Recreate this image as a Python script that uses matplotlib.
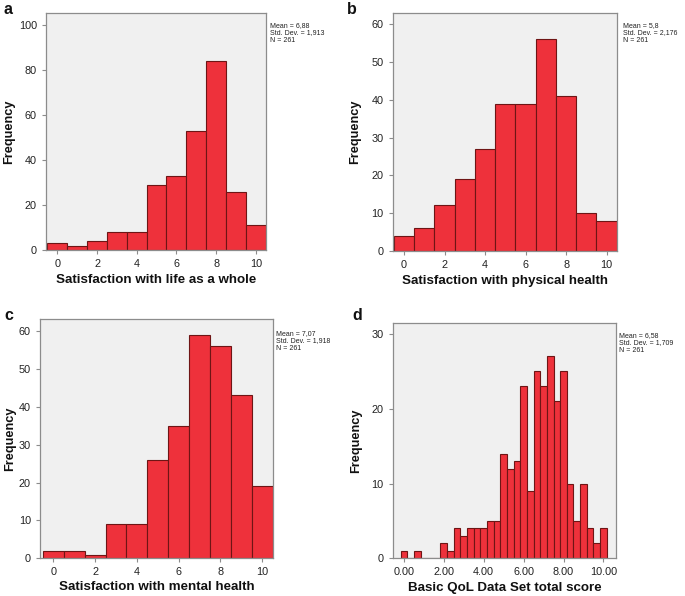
import numpy as np
import matplotlib
matplotlib.use("Agg")
import matplotlib.pyplot as plt
from matplotlib.ticker import FixedLocator, FuncFormatter

plt.rcParams['font.family'] = ['Liberation Sans', 'DejaVu Sans']

# ---- data ----
scores = list(range(11))
life_counts = [3, 2, 4, 8, 8, 29, 33, 53, 84, 26, 11]
phys_counts = [4, 6, 12, 19, 27, 39, 39, 56, 41, 10, 8]
mental_counts = [2, 2, 1, 9, 9, 26, 35, 59, 56, 43, 19]
# total score histogram: bins of width 1/3, bin index k -> centre k/3
total_bin_index = list(range(31))
total_counts = [1, 0, 1, 0, 0, 0, 2, 1, 4, 3, 4, 4, 4, 5, 5, 14, 12, 13, 23, 9,
                25, 23, 27, 21, 25, 10, 5, 10, 4, 2, 4]

panel_letters = ['a', 'b', 'c', 'd']
xlabels = ['Satisfaction with life as a whole', 'Satisfaction with physical health',
           'Satisfaction with mental health', 'Basic QoL Data Set total score']
stats = ['Mean = 6,88\nStd. Dev. = 1,913\nN = 261',
         'Mean = 5,8\nStd. Dev. = 2,176\nN = 261',
         'Mean = 7,07\nStd. Dev. = 1,918\nN = 261',
         'Mean = 6,58\nStd. Dev. = 1,709\nN = 261']

W, H = 685, 596
fig = plt.figure(figsize=(W / 100, H / 100), dpi=100)

def rect(l, r, t, b):
    return [l / W, (H - b) / H, (r - l) / W, (b - t) / H]

rects = [rect(46, 265.7, 12.7, 250), rect(392.7, 616.7, 12.7, 250.7),
         rect(40, 272.7, 319, 558.3), rect(392.7, 616, 322.7, 558.3)]
ylims = [105.5, 63.1, 63.2, 31.5]
xlims = [(-0.57, 10.5), (-0.56, 10.5), (-0.64, 10.5), (-0.56, 10.63)]
yticks = [range(0, 101, 20), range(0, 61, 10), range(0, 61, 10), range(0, 31, 10)]
ylabel_x = [-0.168, -0.167, -0.13, -0.164]
xlabel_y = [-0.126, -0.127, -0.119, -0.126]

bar_face = '#EE313B'
bar_edge = '#6E1515'
bg = '#F0F0F0'
spine_c = '#8C8C8C'

datasets = [(scores, life_counts, 1.0), (scores, phys_counts, 1.0),
            (scores, mental_counts, 1.0),
            ([k / 3 for k in total_bin_index], total_counts, 1 / 3)]

letter_pos = [(4, 10), (347, 10), (4, 316), (352, 316)]
stat_pos = [(270, 22), (623, 22), (276, 330), (619, 332)]

for i, (r, (xs, ys, w)) in enumerate(zip(rects, datasets)):
    ax = fig.add_axes(r)
    ax.set_facecolor(bg)
    ax.bar(xs, ys, width=w, color=bar_face, edgecolor=bar_edge, linewidth=0.8, zorder=2)
    ax.set_xlim(*xlims[i])
    ax.set_ylim(0, ylims[i])
    ax.yaxis.set_major_locator(FixedLocator(list(yticks[i])))
    ax.xaxis.set_major_locator(FixedLocator(list(range(0, 11, 2))))
    if i == 3:
        ax.xaxis.set_major_formatter(FuncFormatter(lambda v, p: f'{v:.2f}'))
    for s in ax.spines.values():
        s.set_color(spine_c)
        s.set_linewidth(0.9)
    ax.tick_params(axis='both', colors=spine_c, labelcolor='#222222', labelsize=7.8,
                   length=3, width=0.8, direction='out')
    ax.set_xlabel(xlabels[i], fontsize=9.6, fontweight='bold', color='#111111', va='center')
    ax.set_ylabel('Frequency', fontsize=9.2, fontweight='bold', color='#111111', va='center')
    ax.xaxis.set_label_coords(0.5, xlabel_y[i])
    ax.yaxis.set_label_coords(ylabel_x[i], 0.5)
    lx, ly = letter_pos[i]
    fig.text(lx / W, 1 - ly / H, panel_letters[i], fontsize=11.5, fontweight='bold',
             va='center', ha='left', color='#111111')
    sx, sy = stat_pos[i]
    fig.text(sx / W, 1 - sy / H, stats[i], fontsize=5, va='top', ha='left',
             color='#222222', linespacing=1.05)

fig.savefig('out.png', dpi=100)
